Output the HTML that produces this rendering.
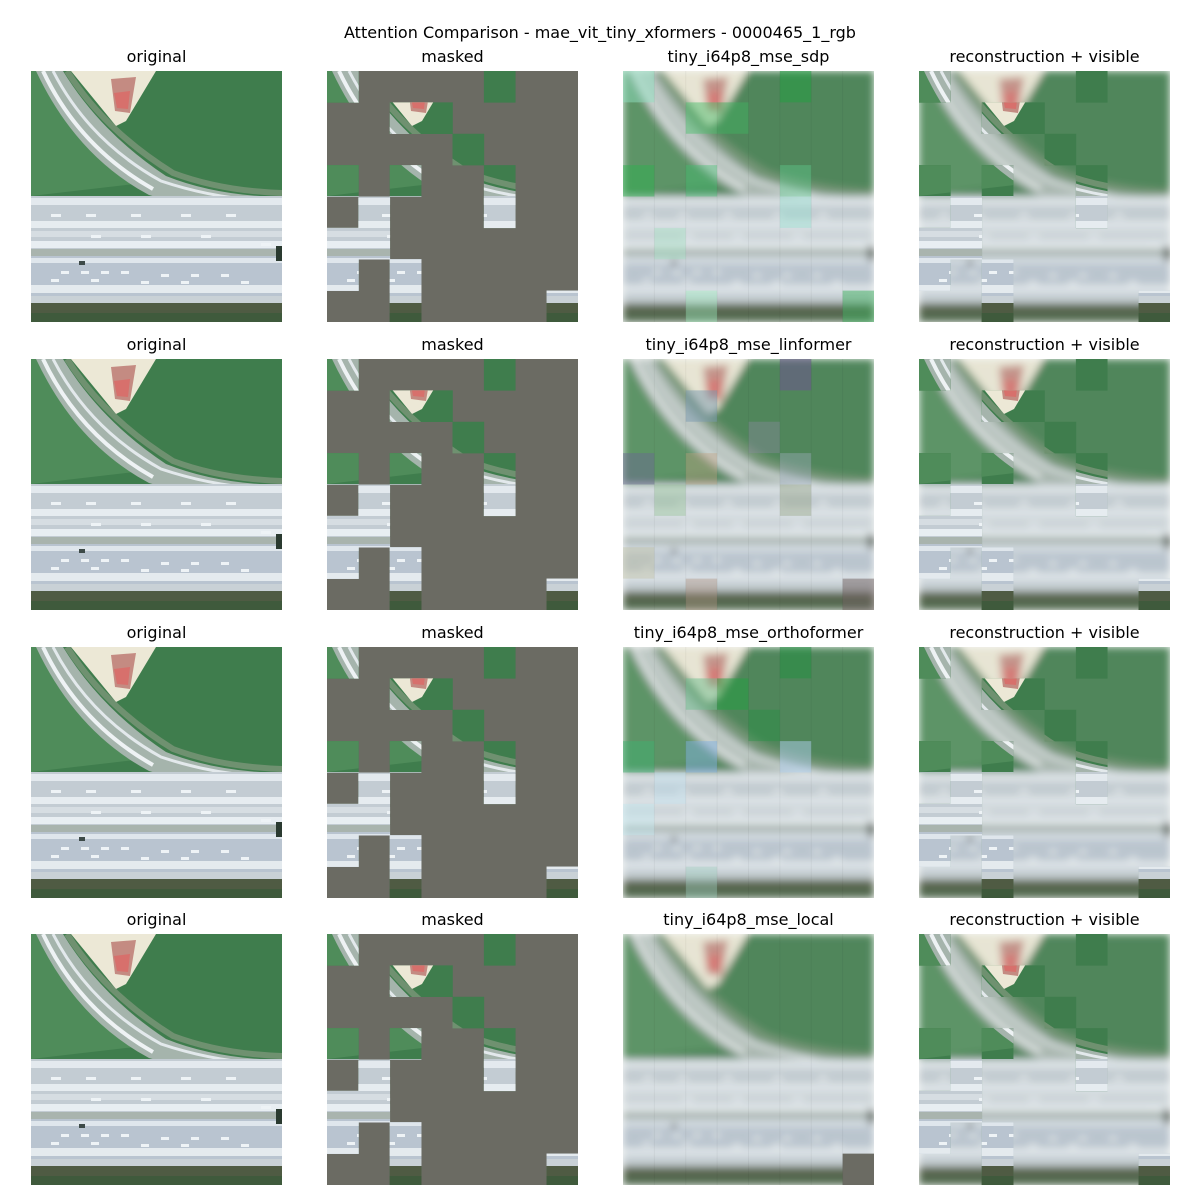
<!DOCTYPE html>
<html><head><meta charset="utf-8">
<style>
html,body{margin:0;padding:0;background:#fff;}
svg{display:block;}
text{font-family:"DejaVu Sans","Liberation Sans",sans-serif;font-size:16px;fill:#000;}
</style></head>
<body>
<svg id="fig" width="1200" height="1200" viewBox="0 0 1200 1200" xmlns="http://www.w3.org/2000/svg">
<defs>
  <filter id="blur" x="0" y="0" width="1" height="1"><feGaussianBlur stdDeviation="4" edgeMode="duplicate"/></filter>
  <symbol id="orig" viewBox="0 0 251 251" preserveAspectRatio="none">
    <rect width="251" height="251" fill="#3f7d4d"/>
    <path d="M0 0 L30 0 Q70 60 130 110 L0 125 Z" fill="#4f8c5a"/>
    <path d="M40 0 L125 0 L95 50 L85 55 Z" fill="#ece8d6"/>
    <path d="M80 8 L105 6 L99 42 L84 40 Z" fill="#c48b82"/>
    <path d="M83 22 L99 20 L97 38 L86 37 Z" fill="#d7706c"/>
    <path d="M32 0 Q70 62 135 105 Q185 125 251 126 L251 142 Q170 140 118 124 Q45 85 5 0 Z" fill="#a5b4ac"/>
    <path d="M12 0 Q48 76 122 118" fill="none" stroke="#eef2f4" stroke-width="4"/>
    <path d="M22 0 Q58 70 130 110 Q190 130 251 130" fill="none" stroke="#e3e9ec" stroke-width="3"/>
    <path d="M36 0 Q74 60 142 102 Q190 120 251 122" fill="none" stroke="#8f9f88" stroke-width="6" opacity="0.6"/>
    <rect x="0" y="125" width="251" height="107" fill="#c3ccd3"/>
    <rect x="0" y="127" width="251" height="7" fill="#e3e9ee"/>
    <rect x="0" y="150" width="251" height="7" fill="#e6ecf0"/>
    <rect x="0" y="160" width="251" height="6" fill="#d6dde2"/>
    <rect x="0" y="170" width="251" height="7" fill="#e8eef2"/>
    <rect x="0" y="178" width="251" height="7" fill="#a9b4ae"/>
    <rect x="0" y="185" width="251" height="40" fill="#b9c4d0"/>
    <rect x="0" y="187" width="251" height="5" fill="#dfe6ec"/>
    <rect x="0" y="214" width="251" height="8" fill="#e4eaee"/>
    <rect x="0" y="225" width="251" height="7" fill="#c9d1d6"/>
    <rect x="0" y="232" width="251" height="19" fill="#4f5b43"/>
    <rect x="0" y="242" width="251" height="9" fill="#3f5a3c"/>
    <g fill="#eef3f6">
      <rect x="20" y="143" width="10" height="3"/><rect x="55" y="143" width="10" height="3"/><rect x="100" y="143" width="10" height="3"/><rect x="150" y="143" width="10" height="3"/><rect x="195" y="143" width="10" height="3"/>
      <rect x="60" y="164" width="10" height="3"/><rect x="110" y="164" width="10" height="3"/><rect x="170" y="164" width="10" height="3"/><rect x="230" y="172" width="10" height="3"/>
      <rect x="30" y="200" width="8" height="3"/><rect x="50" y="200" width="8" height="3"/><rect x="70" y="200" width="8" height="3"/><rect x="90" y="200" width="8" height="3"/><rect x="130" y="203" width="8" height="3"/><rect x="160" y="203" width="8" height="3"/><rect x="190" y="203" width="8" height="3"/>
      <rect x="20" y="208" width="8" height="3"/><rect x="60" y="208" width="8" height="3"/><rect x="110" y="210" width="8" height="3"/><rect x="150" y="210" width="8" height="3"/><rect x="210" y="210" width="8" height="3"/>
    </g>
    <rect x="245" y="175" width="6" height="15" fill="#2a3a30"/>
    <rect x="48" y="190" width="6" height="4" fill="#3d4a48"/>
  </symbol>
</defs>
<text x="600" y="38" text-anchor="middle">Attention Comparison - mae_vit_tiny_xformers - 0000465_1_rgb</text>
</svg>
<script>
const rowsY=[71,359,647,934];
const colsX=[31,327,623,919];
const S=251, P=S/8;
const reconTitles=["tiny_i64p8_mse_sdp","tiny_i64p8_mse_linformer","tiny_i64p8_mse_orthoformer","tiny_i64p8_mse_local"];
const visible=[[0,0],[0,5],[1,2],[1,3],[2,4],[3,0],[3,2],[3,5],[4,1],[4,5],[5,0],[5,1],[6,0],[6,2],[7,2],[7,7]];
const tints=[
 [[0,0,"#8fe0c0",0.5],[1,2,"#4fbf6f",0.5],[1,3,"#3fb060",0.5],[0,5,"#20a040",0.5],[3,0,"#30b050",0.5],[3,2,"#40c070",0.4],[3,5,"#60d090",0.4],[4,5,"#90e0d0",0.4],[5,1,"#a0e0c0",0.4],[7,2,"#a0f0c0",0.4],[7,7,"#40b060",0.5]],
 [[0,5,"#6a5a8a",0.6],[1,2,"#7a9ab0",0.5],[2,4,"#8a8aa0",0.4],[3,0,"#6a6a90",0.5],[3,2,"#c0a080",0.4],[3,5,"#a0b0c0",0.4],[4,1,"#90c090",0.4],[4,5,"#90a080",0.4],[6,0,"#c0c0a0",0.4],[7,2,"#b09080",0.4],[7,7,"#706060",0.5]],
 [[0,5,"#209040",0.5],[1,2,"#70c090",0.5],[1,3,"#20a040",0.5],[2,4,"#209040",0.4],[3,0,"#40b070",0.5],[3,2,"#80b0e0",0.5],[3,5,"#b0d0f0",0.5],[4,1,"#c0e0f0",0.4],[5,0,"#c0e8f0",0.4],[7,2,"#a0d0c0",0.4]],
 [[7,7,"#6b6b63",1]]
];
const NS="http://www.w3.org/2000/svg";
const fig=document.getElementById('fig');
function mk(tag,attrs,parent){const e=document.createElementNS(NS,tag);for(const k in attrs)e.setAttribute(k,attrs[k]);parent.appendChild(e);return e;}
const defs=fig.querySelector('defs');
const cp=mk('clipPath',{id:'vis',clipPathUnits:'userSpaceOnUse'},defs);
visible.forEach(v=>mk('rect',{x:v[1]*P,y:v[0]*P,width:P+0.3,height:P+0.3},cp));
function useOrig(g){return mk('use',{href:'#orig',x:0,y:0,width:S,height:S},g);}
rowsY.forEach((y,r)=>{
  const titles=["original","masked",reconTitles[r],"reconstruction + visible"];
  colsX.forEach((x,c)=>{
    const t=mk('text',{x:x+S/2,y:y-9,'text-anchor':'middle'},fig);
    t.textContent=titles[c];
    
    
    const g=mk('g',{transform:`translate(${x},${y})`},fig);
    
    
    if(c===0){useOrig(g);}
    else if(c===1){
      mk('rect',{width:S,height:S,fill:'#6b6b63'},g);
      const gg=mk('g',{'clip-path':'url(#vis)'},g);useOrig(gg);
    } else {
      const inner=mk('svg',{x:0,y:0,width:S,height:S,overflow:'hidden'},g);
      const b=mk('g',{filter:'url(#blur)'},inner);useOrig(b);
      mk('rect',{width:S,height:S,fill:'#c8d0c8',opacity:0.12},inner);
      if(c===2){
        tints[r].forEach(p=>mk('rect',{x:p[1]*P,y:p[0]*P,width:P,height:P,fill:p[2],opacity:p[3]},inner));
        for(let i=1;i<8;i++){mk('line',{x1:i*P,y1:0,x2:i*P,y2:S,stroke:'#000',opacity:0.04},inner);}
      } else {
        const gg=mk('g',{'clip-path':'url(#vis)'},inner);useOrig(gg);
      }
    }
  });
});
</script>
</body></html>
